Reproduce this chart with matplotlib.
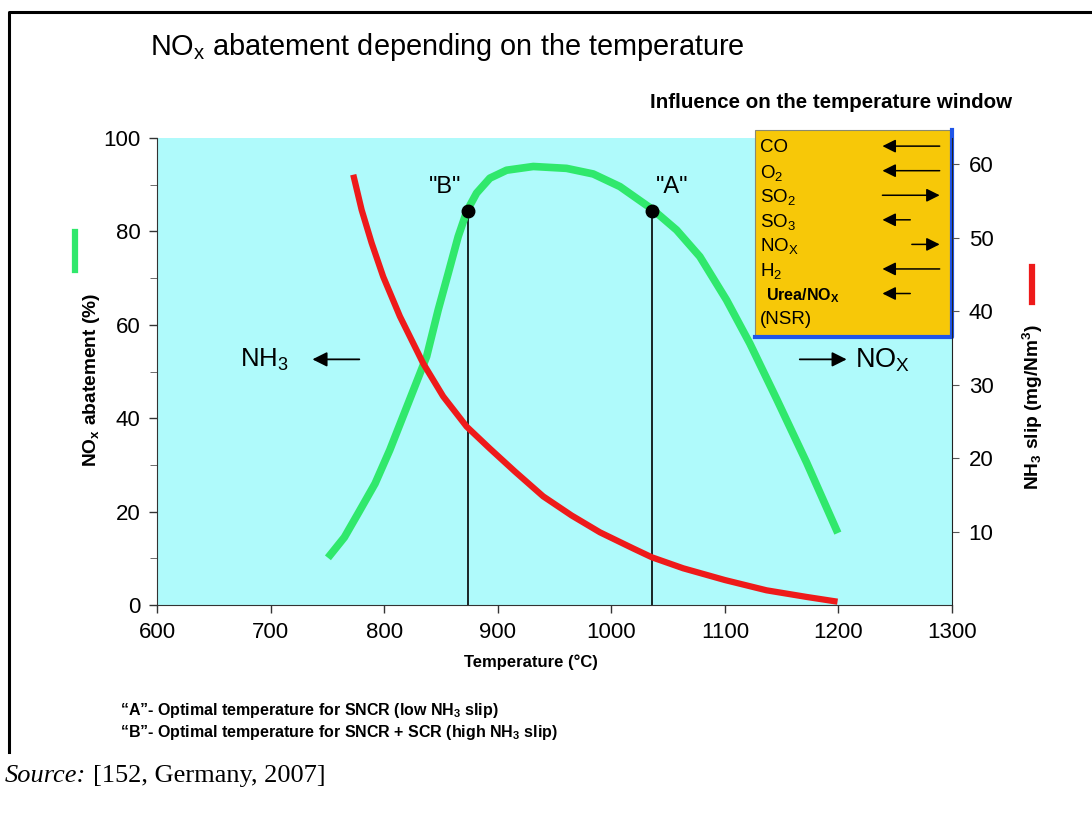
import numpy as np
import matplotlib.pyplot as plt
from matplotlib.patches import Rectangle
from matplotlib.lines import Line2D

plt.rcParams['font.family'] = ['Liberation Sans', 'DejaVu Sans']
plt.rcParams['mathtext.fontset'] = 'custom'
plt.rcParams['mathtext.rm'] = 'Liberation Sans'
plt.rcParams['mathtext.it'] = 'Liberation Sans'
plt.rcParams['mathtext.bf'] = 'Liberation Sans:bold'
plt.rcParams['mathtext.default'] = 'regular'

# NOx abatement curve (left axis, %)
abate_temp = [750.5, 765, 778, 792, 805, 821.2, 837.4, 847.6, 856.4, 865.2, 872.9, 881.4,
              893.1, 907.8, 931.3, 960.6, 984.1, 1007.6, 1036.9, 1057.5, 1078, 1101.5,
              1122, 1146, 1172, 1199.5]
abate_pct = [10.1, 14.5, 20.0, 26.0, 33.2, 43.2, 53.2, 63.2, 71.0, 78.9, 84.4, 88.2,
             91.4, 93.1, 93.9, 93.5, 92.3, 89.6, 84.6, 80.3, 74.6, 65.3,
             56.0, 43.9, 30.5, 15.4]

# NH3 slip curve (right axis, mg/Nm3)
slip_temp = [772.8, 780.2, 789, 799.2, 813.9, 834.4, 852, 872.6, 893.1, 915, 940, 965,
             990, 1019.3, 1035.7, 1063.3, 1100, 1136.7, 1171.9, 1199.2]
slip_mg = [58.6, 53.8, 49.3, 44.7, 39.3, 32.9, 28.4, 24.3, 21.3, 18.2, 14.8, 12.2,
           9.9, 7.7, 6.5, 5.0, 3.4, 2.0, 1.1, 0.45]

# optimal temperature points
point_names = ['"B"', '"A"']
point_temp = [873.5, 1035.5]
point_pct = [84.4, 84.4]

# influence on the temperature window: sign = shift direction, 2 = strong, 1 = weak
species = ['CO', 'O$_2$', 'SO$_2$', 'SO$_3$', 'NO$_X$', 'H$_2$', 'Urea/NO$_X$', '(NSR)']
influence = [-2, -2, 2, -1, 1, -2, -1, 0]

green = '#30e86c'
red = '#ee1a1a'

fig = plt.figure(figsize=(10.92, 8.14), dpi=100)
ax = fig.add_axes([157 / 1092, 1 - 605 / 814, 795 / 1092, 467 / 814])
ax.set_facecolor('#affafb')
ax.plot(abate_temp, abate_pct, color=green, lw=5.5, solid_capstyle='butt',
        solid_joinstyle='round', zorder=3)
ax.vlines(point_temp, 0, point_pct, color='black', lw=1.2, zorder=2)
ax.plot(point_temp, point_pct, 'o', color='black', ms=9, zorder=4)
for name, t, p, dx in zip(point_names, point_temp, point_pct, [-16, 15]):
    ax.annotate(name, (t, p), xytext=(dx, 17), textcoords='offset points',
                ha='center', va='center', fontsize=17)

ax.set_xlim(600, 1300)
ax.set_ylim(0, 100)
ax.set_xticks(range(600, 1301, 100))
ax.set_yticks(range(0, 101, 20))
ax.set_yticks(range(10, 100, 20), minor=True)
ax.tick_params(axis='both', direction='out', length=6, width=1, labelsize=16, color='#333333')
ax.tick_params(axis='x', pad=6)
ax.tick_params(axis='y', pad=6)
ax.tick_params(axis='y', which='minor', direction='out', length=5, color='#555555')
ax.spines['top'].set_visible(False)
ax.spines['right'].set_visible(False)
for s in ['left', 'bottom']:
    ax.spines[s].set_color('#333333')

ax2 = ax.twinx()
ax2.plot(slip_temp, slip_mg, color=red, lw=4.5, solid_capstyle='butt',
         solid_joinstyle='round', zorder=3)
ax2.set_ylim(0, 63.6)
ax2.set_yticks(range(10, 61, 10))
ax2.tick_params(axis='y', direction='out', length=5, labelsize=16, pad=7, color='#555555')
for s in ['top', 'left', 'bottom']:
    ax2.spines[s].set_visible(False)
ax2.spines['right'].set_color('#222222')

# NH3 / NOx arrows
ax.annotate('', xy=(0.192, 0.526), xytext=(0.258, 0.526), xycoords='axes fraction',
            arrowprops=dict(arrowstyle='-|>', color='black', lw=1.3, mutation_scale=22))
ax.text(0.104, 0.524, 'NH$_3$', transform=ax.transAxes, fontsize=18.5, va='center')
ax.annotate('', xy=(0.871, 0.526), xytext=(0.805, 0.526), xycoords='axes fraction',
            arrowprops=dict(arrowstyle='-|>', color='black', lw=1.3, mutation_scale=22))
ax.text(0.878, 0.524, 'NO$_X$', transform=ax.transAxes, fontsize=19.5, va='center')

# influence box
ax.add_patch(Rectangle((0.752, 0.574), 0.248, 0.443, transform=ax.transAxes, clip_on=False,
                       facecolor='#f7c808', edgecolor='#8a8a70', lw=0.8, zorder=5))
ax.add_line(Line2D([0.752, 1.0, 1.0], [0.574, 0.574, 1.017], transform=ax.transAxes,
                   color='#1f55e8', lw=3, clip_on=False, zorder=6))
for i, (sp, inf) in enumerate(zip(species, influence)):
    y = 0.9786 - i * 0.0526
    if sp.startswith('Urea'):
        ax.text(0.766, y, sp, transform=ax.transAxes, fontsize=11.5, fontweight='bold',
                va='center', zorder=7)
    else:
        ax.text(0.7585, y, sp, transform=ax.transAxes, fontsize=13.5, va='center', zorder=7)
    if inf == 0:
        continue
    left, right = 0.909, 0.988
    if inf < 0:
        head, tail = left, (right if inf == -2 else left + 0.042)
    else:
        tail, head = (left if inf == 2 else right - 0.042), right
    ax.annotate('', xy=(head, y + 0.004), xytext=(tail, y + 0.004), xycoords='axes fraction',
                arrowprops=dict(arrowstyle='-|>', color='black', lw=1.1, mutation_scale=20),
                zorder=7)

# axis labels and side markers
fig.text(531 / 1092, 1 - 662 / 814, 'Temperature (°C)', ha='center', va='center',
         fontsize=12, fontweight='bold')
fig.text(92 / 1092, 1 - 380 / 814, 'NO$_x$ abatement (%)', rotation=90, ha='center',
         va='center', fontsize=13.8, fontweight='bold')
fig.text(1033 / 1092, 1 - 407 / 814, 'NH$_3$ slip (mg/Nm$^3$)', rotation=90, ha='center',
         va='center', fontsize=13.8, fontweight='bold')
fig.add_artist(Line2D([75 / 1092] * 2, [1 - 232 / 814, 1 - 270 / 814], color=green, lw=4.5))
fig.add_artist(Line2D([1032 / 1092] * 2, [1 - 267 / 814, 1 - 302 / 814], color=red, lw=4.5))

fig.text(150 / 1092, 1 - 47 / 814, 'NO$_x$ abatement depending on the temperature',
         fontsize=20.8, va='center')
fig.text(650 / 1092, 1 - 103 / 814, 'Influence on the temperature window', fontsize=14.8,
         fontweight='bold', va='center')

fig.text(120 / 1092, 1 - 710 / 814, '\u201cA\u201d- Optimal temperature for SNCR (low NH$_3$ slip)',
         fontsize=11.5, fontweight='bold', va='center')
fig.text(120 / 1092, 1 - 733 / 814,
         '\u201cB\u201d- Optimal temperature for SNCR + SCR (high NH$_3$ slip)',
         fontsize=11.5, fontweight='bold', va='center')
fig.text(5 / 1092, 1 - 776 / 814, 'Source:', fontsize=19, fontstyle='italic',
         family='Liberation Serif', va='center')
fig.text(93 / 1092, 1 - 776 / 814, '[152, Germany, 2007]', fontsize=19,
         family='Liberation Serif', va='center')

# page frame
fig.add_artist(Line2D([9 / 1092, 9 / 1092, 1.0], [1 - 752 / 814, 1 - 12 / 814, 1 - 12 / 814],
                      color='black', lw=2.2))

fig.savefig('out.png', dpi=100)
